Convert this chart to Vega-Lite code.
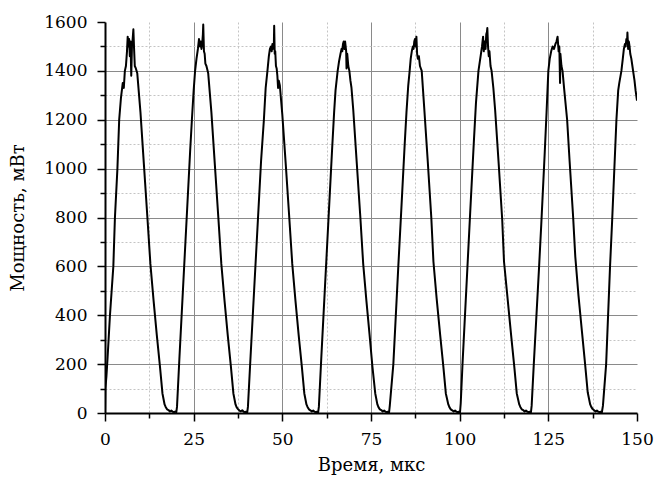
{
  "$schema": "https://vega.github.io/schema/vega-lite/v6.json",
  "width": 532,
  "height": 391,
  "autosize": "none",
  "padding": {"left": 105, "top": 22, "right": 18, "bottom": 65},
  "background": "white",
  "config": {
    "view": {"stroke": null},
    "font": "DejaVu Serif",
    "axis": {
      "labelFontSize": 17,
      "titleFontSize": 18,
      "titleFontWeight": "normal",
      "labelColor": "black",
      "titleColor": "black",
      "domainColor": "black",
      "domainWidth": 2,
      "tickColor": "black",
      "tickWidth": 1.5,
      "labelPadding": 10
    }
  },
  "data": {
    "values": [
      {"t":0,"p":0},{"t":0.1,"p":100},{"t":0.4,"p":150},{"t":0.7,"p":220},{"t":1.4,"p":400},{"t":2.35,"p":600},{"t":2.8,"p":800},{"t":3.5,"p":1000},{"t":4.0,"p":1200},{"t":4.5,"p":1290},{"t":5.0,"p":1350},{"t":5.3,"p":1330},{"t":5.6,"p":1400},{"t":5.9,"p":1420},{"t":6.2,"p":1480},{"t":6.4,"p":1540},{"t":6.6,"p":1500},{"t":6.8,"p":1530},{"t":7.0,"p":1460},{"t":7.2,"p":1520},{"t":7.4,"p":1380},{"t":7.6,"p":1500},{"t":7.8,"p":1530},{"t":8.0,"p":1570},{"t":8.2,"p":1490},{"t":8.4,"p":1420},{"t":8.7,"p":1410},{"t":9.1,"p":1390},{"t":10.0,"p":1230},{"t":11.0,"p":1010},{"t":12.0,"p":790},{"t":12.8,"p":610},{"t":13.7,"p":460},{"t":14.6,"p":320},{"t":15.5,"p":190},{"t":16.2,"p":80},{"t":16.8,"p":35},{"t":17.1,"p":25},{"t":17.5,"p":15},{"t":17.9,"p":12},{"t":18.3,"p":6},{"t":18.7,"p":10},{"t":19.1,"p":5},{"t":19.5,"p":4},{"t":19.8,"p":6},
      {"t":20.1,"p":3},{"t":20.3,"p":25},{"t":21.0,"p":230},{"t":22.0,"p":510},{"t":23.0,"p":790},{"t":24.0,"p":1070},{"t":24.5,"p":1200},{"t":25.0,"p":1320},{"t":25.4,"p":1400},{"t":25.8,"p":1450},{"t":26.2,"p":1490},{"t":26.5,"p":1530},{"t":26.8,"p":1500},{"t":27.0,"p":1520},{"t":27.2,"p":1490},{"t":27.4,"p":1510},{"t":27.6,"p":1550},{"t":27.7,"p":1590},{"t":27.9,"p":1480},{"t":28.1,"p":1470},{"t":28.3,"p":1430},{"t":28.6,"p":1420},{"t":29.1,"p":1390},{"t":30.0,"p":1230},{"t":31.0,"p":1010},{"t":32.0,"p":790},{"t":32.8,"p":610},{"t":33.7,"p":460},{"t":34.6,"p":320},{"t":35.5,"p":190},{"t":36.2,"p":80},{"t":36.8,"p":35},{"t":37.1,"p":24},{"t":37.5,"p":16},{"t":37.9,"p":10},{"t":38.3,"p":7},{"t":38.7,"p":11},{"t":39.1,"p":5},{"t":39.5,"p":4},{"t":39.8,"p":5},
      {"t":40.1,"p":3},{"t":40.3,"p":25},{"t":41.0,"p":220},{"t":42.0,"p":490},{"t":43.0,"p":760},{"t":44.0,"p":1030},{"t":44.8,"p":1200},{"t":45.3,"p":1330},{"t":45.8,"p":1400},{"t":46.2,"p":1460},{"t":46.5,"p":1490},{"t":46.8,"p":1500},{"t":47.0,"p":1480},{"t":47.2,"p":1510},{"t":47.4,"p":1490},{"t":47.6,"p":1500},{"t":47.7,"p":1585},{"t":47.85,"p":1470},{"t":48.0,"p":1480},{"t":48.2,"p":1420},{"t":48.4,"p":1410},{"t":48.6,"p":1380},{"t":48.8,"p":1330},{"t":49.0,"p":1360},{"t":49.3,"p":1340},{"t":50.0,"p":1220},{"t":51.0,"p":1010},{"t":52.0,"p":790},{"t":52.8,"p":610},{"t":53.7,"p":460},{"t":54.6,"p":320},{"t":55.5,"p":190},{"t":56.2,"p":80},{"t":56.8,"p":35},{"t":57.1,"p":25},{"t":57.5,"p":15},{"t":57.9,"p":11},{"t":58.3,"p":6},{"t":58.7,"p":10},{"t":59.1,"p":5},{"t":59.5,"p":4},{"t":59.8,"p":5},
      {"t":60.1,"p":3},{"t":60.3,"p":25},{"t":61.0,"p":230},{"t":62.0,"p":510},{"t":63.0,"p":790},{"t":64.0,"p":1070},{"t":64.6,"p":1230},{"t":65.0,"p":1320},{"t":65.6,"p":1400},{"t":66.0,"p":1440},{"t":66.4,"p":1470},{"t":66.7,"p":1490},{"t":66.9,"p":1480},{"t":67.1,"p":1510},{"t":67.3,"p":1520},{"t":67.5,"p":1490},{"t":67.7,"p":1520},{"t":68.0,"p":1480},{"t":68.1,"p":1410},{"t":68.3,"p":1470},{"t":68.6,"p":1420},{"t":68.9,"p":1400},{"t":69.2,"p":1360},{"t":69.5,"p":1330},{"t":70.0,"p":1240},{"t":71.0,"p":1020},{"t":72.0,"p":800},{"t":72.8,"p":610},{"t":73.7,"p":460},{"t":74.6,"p":320},{"t":75.4,"p":190},{"t":76.2,"p":80},{"t":76.8,"p":35},{"t":77.1,"p":24},{"t":77.5,"p":15},{"t":77.9,"p":12},{"t":78.3,"p":6},{"t":78.7,"p":10},{"t":79.1,"p":5},{"t":79.5,"p":4},{"t":79.8,"p":5},
      {"t":80.1,"p":3},{"t":80.3,"p":30},{"t":81.3,"p":200},{"t":82.7,"p":600},{"t":83.5,"p":820},{"t":84.5,"p":1100},{"t":85.0,"p":1230},{"t":85.5,"p":1340},{"t":85.9,"p":1400},{"t":86.2,"p":1450},{"t":86.5,"p":1480},{"t":86.8,"p":1500},{"t":87.0,"p":1490},{"t":87.2,"p":1520},{"t":87.4,"p":1530},{"t":87.6,"p":1500},{"t":87.8,"p":1540},{"t":88.0,"p":1470},{"t":88.2,"p":1450},{"t":88.5,"p":1460},{"t":88.8,"p":1420},{"t":89.3,"p":1400},{"t":90.0,"p":1250},{"t":91.0,"p":1030},{"t":92.0,"p":800},{"t":92.6,"p":620},{"t":93.5,"p":470},{"t":94.5,"p":320},{"t":95.4,"p":190},{"t":96.1,"p":80},{"t":96.8,"p":35},{"t":97.1,"p":24},{"t":97.5,"p":15},{"t":97.9,"p":11},{"t":98.3,"p":6},{"t":98.7,"p":10},{"t":99.1,"p":5},{"t":99.5,"p":4},{"t":99.8,"p":5},
      {"t":100.1,"p":3},{"t":100.3,"p":40},{"t":100.8,"p":200},{"t":102.2,"p":600},{"t":103.0,"p":830},{"t":104.0,"p":1110},{"t":104.6,"p":1270},{"t":105.3,"p":1400},{"t":105.7,"p":1440},{"t":106.0,"p":1470},{"t":106.3,"p":1500},{"t":106.6,"p":1540},{"t":106.8,"p":1480},{"t":107.0,"p":1520},{"t":107.3,"p":1490},{"t":107.5,"p":1550},{"t":107.7,"p":1560},{"t":107.8,"p":1575},{"t":108.0,"p":1500},{"t":108.2,"p":1460},{"t":108.4,"p":1480},{"t":108.7,"p":1420},{"t":109.0,"p":1400},{"t":109.5,"p":1330},{"t":110.0,"p":1240},{"t":111.0,"p":1020},{"t":112.0,"p":790},{"t":112.5,"p":620},{"t":113.5,"p":470},{"t":114.5,"p":320},{"t":115.4,"p":190},{"t":116.1,"p":80},{"t":116.8,"p":35},{"t":117.1,"p":25},{"t":117.5,"p":15},{"t":117.9,"p":12},{"t":118.3,"p":6},{"t":118.7,"p":10},{"t":119.1,"p":5},{"t":119.5,"p":4},{"t":119.8,"p":5},
      {"t":120.1,"p":3},{"t":120.3,"p":30},{"t":120.9,"p":200},{"t":122.4,"p":600},{"t":123.0,"p":770},{"t":124.0,"p":1070},{"t":124.5,"p":1230},{"t":125.0,"p":1400},{"t":125.4,"p":1450},{"t":125.8,"p":1480},{"t":126.2,"p":1500},{"t":126.6,"p":1490},{"t":127.0,"p":1510},{"t":127.3,"p":1520},{"t":127.6,"p":1540},{"t":127.9,"p":1480},{"t":128.1,"p":1500},{"t":128.3,"p":1350},{"t":128.4,"p":1470},{"t":128.7,"p":1420},{"t":129.0,"p":1400},{"t":129.5,"p":1320},{"t":130.3,"p":1200},{"t":131.0,"p":1030},{"t":132.0,"p":800},{"t":132.6,"p":640},{"t":133.5,"p":480},{"t":134.5,"p":330},{"t":135.4,"p":195},{"t":136.1,"p":85},{"t":136.8,"p":35},{"t":137.1,"p":25},{"t":137.5,"p":16},{"t":137.9,"p":11},{"t":138.3,"p":6},{"t":138.7,"p":10},{"t":139.1,"p":5},{"t":139.5,"p":4},{"t":139.8,"p":5},
      {"t":140.1,"p":3},{"t":140.4,"p":30},{"t":141.3,"p":200},{"t":142.4,"p":600},{"t":143.0,"p":790},{"t":144.2,"p":1200},{"t":144.7,"p":1320},{"t":145.0,"p":1350},{"t":145.6,"p":1400},{"t":146.0,"p":1450},{"t":146.3,"p":1490},{"t":146.6,"p":1510},{"t":146.8,"p":1500},{"t":147.0,"p":1530},{"t":147.2,"p":1520},{"t":147.3,"p":1557},{"t":147.5,"p":1490},{"t":147.7,"p":1520},{"t":147.9,"p":1500},{"t":148.1,"p":1470},{"t":148.4,"p":1450},{"t":148.7,"p":1420},{"t":149.0,"p":1390},{"t":149.3,"p":1360},{"t":149.6,"p":1320},{"t":150.0,"p":1278}
    ]
  },
  "mark": {"type": "line", "color": "black", "strokeWidth": 2, "strokeJoin": "round", "clip": true},
  "encoding": {
    "x": {
      "field": "t",
      "type": "quantitative",
      "scale": {"domain": [0, 150], "nice": false, "zero": false},
      "axis": {
        "title": "Время, мкс",
        "labelFont": "DejaVu Serif",
        "titleFont": "DejaVu Serif",
        "values": [0, 12.5, 25, 37.5, 50, 62.5, 75, 87.5, 100, 112.5, 125, 137.5, 150],
        "labelExpr": "datum.value % 25 == 0 ? datum.label : ''",
        "format": ".1~f",
        "labelFlush": false,
        "labelOverlap": false,
        "titlePadding": 9,
        "tickSize": {"condition": {"test": "datum.value % 25 != 0", "value": 5}, "value": 8},
        "grid": true,
        "gridColor": {"condition": {"test": "datum.value % 25 != 0", "value": "#c4c4c4"}, "value": "#8a8a8a"},
        "gridDash": {"condition": {"test": "datum.value % 25 != 0", "value": [2, 2]}, "value": []},
        "gridWidth": 1,
        "gridOpacity": {"condition": {"test": "datum.value == 0 || datum.value == 150", "value": 0}, "value": 1}
      }
    },
    "y": {
      "field": "p",
      "type": "quantitative",
      "scale": {"domain": [0, 1600], "nice": false},
      "axis": {
        "title": "Мощность, мВт",
        "labelFont": "DejaVu Serif",
        "titleFont": "DejaVu Serif",
        "values": [0, 100, 200, 300, 400, 500, 600, 700, 800, 900, 1000, 1100, 1200, 1300, 1400, 1500, 1600],
        "labelExpr": "datum.value % 200 == 0 ? datum.label : ''",
        "format": "d",
        "labelFlush": false,
        "labelOverlap": false,
        "titlePadding": 16,
        "tickSize": {"condition": {"test": "datum.value % 200 != 0", "value": 5}, "value": 8},
        "grid": true,
        "gridColor": {"condition": {"test": "datum.value % 200 != 0", "value": "#c4c4c4"}, "value": "#8a8a8a"},
        "gridDash": {"condition": {"test": "datum.value % 200 != 0", "value": [2, 2]}, "value": []},
        "gridWidth": 1,
        "gridOpacity": {"condition": {"test": "datum.value == 0 || datum.value == 1600", "value": 0}, "value": 1}
      }
    }
  }
}
